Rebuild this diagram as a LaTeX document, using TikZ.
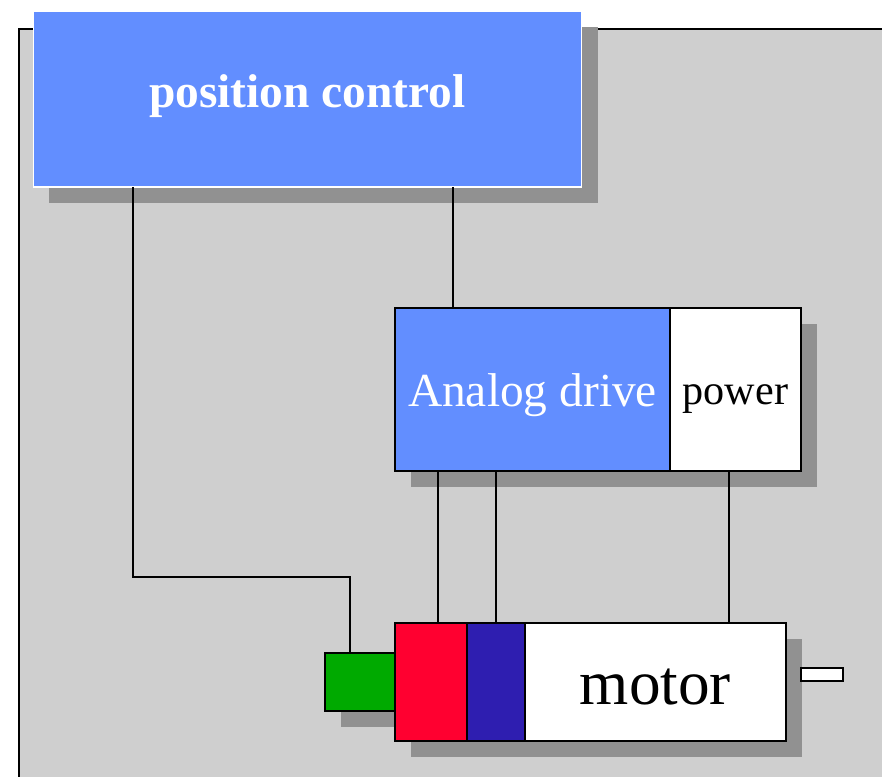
\documentclass[tikz,border=0pt]{standalone}
\usepackage{fontspec}
\setmainfont{Liberation Serif}
\usetikzlibrary{positioning, shadows}

\definecolor{panelgray}{RGB}{207,207,207}
\definecolor{shadowgray}{RGB}{145,145,145}
\definecolor{ctrlblue}{RGB}{98,142,255}
\definecolor{brakered}{RGB}{255,0,48}
\definecolor{coilblue}{RGB}{46,30,176}
\definecolor{encgreen}{RGB}{0,170,0}

\begin{document}
\begin{tikzpicture}[
  x=0.02cm, y=-0.02cm,
  every node/.style={inner sep=0pt, outer sep=0pt},
  box/.style={draw, rectangle, line width=1.2pt, drop shadow={shadow xshift=.32cm, shadow yshift=-.32cm, fill=shadowgray, opacity=1}},
  ctrl/.style={box, draw=white, line width=.6pt, fill=ctrlblue, text=white, minimum width=10.98cm, minimum height=3.52cm, font=\fontsize{27}{30}\selectfont\bfseries, text height=10.2pt, text depth=0pt},
  drive/.style={box, fill=ctrlblue, text=white, minimum width=5.5cm, minimum height=3.26cm, font=\fontsize{27}{30}\selectfont, text height=19.8pt, text depth=0pt},
  supply/.style={box, fill=white, minimum width=2.62cm, minimum height=3.26cm, font=\fontsize{24}{28}\selectfont, text height=17.6pt, text depth=0pt},
  part/.style={box, minimum height=2.36cm},
  wire/.style={line width=1.2pt}
]
\useasboundingbox (0,0) rectangle (882,777);

% Background panel
\fill[panelgray] (19,29) rectangle (882,777);
\draw[line width=1.2pt] (19,777) -- (19,29) -- (882,29);

% Controller
\node[ctrl] (pc) at (307.5,99) {position control};

% Drive and power stage
\node[drive] (drive) at (532.5,389.5) {Analog drive};
\node[supply, right=0pt of drive] (power) {power};

% Motor assembly
\node[box, fill=encgreen, minimum width=1.4cm, minimum height=1.16cm] (enc) at (360,682) {};
\node[part, fill=brakered, minimum width=1.44cm, right=0pt of enc] (brake) {};
\node[part, fill=coilblue, minimum width=1.16cm, right=0pt of brake] (coil) {};
\node[part, fill=white, minimum width=5.22cm, right=0pt of coil, font=\fontsize{36}{40}\selectfont, text height=26pt, text depth=0pt] (motor) {motor};
\node[draw, fill=white, line width=1.2pt, minimum width=.84cm, minimum height=.26cm, right=.3cm of motor, yshift=.15cm] (shaft) {};

% Wires
\draw[wire] ([xshift=2cm]pc.south west) |- ([xshift=-.2cm, yshift=1.52cm]enc.north) -- ([xshift=-.2cm]enc.north);
\draw[wire] ([xshift=8.4cm]pc.south west) -- ([xshift=8.4cm]pc.south west |- drive.north);
\draw[wire] ([xshift=.86cm]drive.south west) -- ([xshift=.86cm]drive.south west |- brake.north);
\draw[wire] ([xshift=2.02cm]drive.south west) -- ([xshift=2.02cm]drive.south west |- coil.north);
\draw[wire] ([xshift=1.18cm]power.south west) -- ([xshift=1.18cm]power.south west |- motor.north);

\end{tikzpicture}
\end{document}
